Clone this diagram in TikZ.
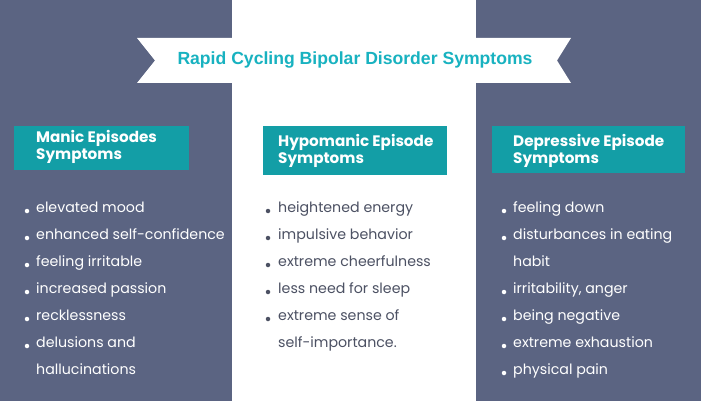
\documentclass[tikz,border=0pt]{standalone}
\usepackage{fontspec}
\setmainfont{Poppins}
\newfontfamily\titlefont{Liberation Sans}
\usetikzlibrary{positioning}
\definecolor{slate}{HTML}{5B6482}
\definecolor{teal}{HTML}{139EA6}
\definecolor{titleteal}{HTML}{18B2C0}
\definecolor{midtext}{HTML}{4C5163}
\tikzset{
  head/.style={fill=teal, text=white, font=\bfseries\fontsize{15.2}{17}\selectfont, align=left, anchor=north west, inner sep=0pt},
  item/.style={anchor=west, inner sep=0pt, text height=10pt, text depth=3pt, font=\fontsize{14.2}{16}\selectfont},
  dot/.style={circle, fill, inner sep=0pt, minimum size=4.5pt}
}
\begin{document}
\begin{tikzpicture}[x=1pt,y=-1pt]
\useasboundingbox (0,0) rectangle (701,401);
\fill[slate] (0,0) rectangle (232,401);
\fill[white] (232,0) rectangle (476,401);
\fill[slate] (476,0) rectangle (701,401);

% ribbon
\fill[white] (137,38) -- (571,38) -- (557,60.5) -- (571,83) -- (137,83) -- (155,60.5) -- cycle;
\node (title) at (355,60) {\titlefont\bfseries\fontsize{17.6}{19}\selectfont\color{titleteal}Rapid Cycling Bipolar Disorder Symptoms};

% headers
\fill[teal] (14,126) rectangle (189,170);
\node[head] (manic) at (36,130) {Manic Episodes\\Symptoms};
\fill[teal] (263,126) rectangle (447,175);
\node[head] (hypo) at (278,134) {Hypomanic Episode\\Symptoms};
\fill[teal] (492,126) rectangle (685,173);
\node[head] (depr) at (513,134) {Depressive Episode\\Symptoms};

% left list
\foreach \t [count=\i] in {elevated mood, enhanced self-confidence, feeling irritable, increased passion, recklessness, delusions and}
  {\node[item, text=white] (m\i) at (36,{182+27*\i}) {\t};
   \node[dot, white] at (27,{184+27*\i}) {};}
\node[item, text=white] (m7) at (36,371) {hallucinations};

% middle list
\foreach \t [count=\i] in {heightened energy, impulsive behavior, extreme cheerfulness, less need for sleep, extreme sense of}
  {\node[item, text=midtext] (h\i) at (278,{182+27*\i}) {\t};
   \node[dot, midtext] at (268,{184+27*\i}) {};}
\node[item, text=midtext] (h6) at (278,344) {self-importance.};

% right list
\foreach \t/\b [count=\i] in {feeling down/1, disturbances in eating/1, habit/0, {irritability, anger}/1, being negative/1, extreme exhaustion/1, physical pain/1}
  {\node[item, text=white] (d\i) at (513,{182+27*\i}) {\t};
   \ifnum\b=1 \node[dot, white] at (504,{184+27*\i}) {};\fi}
\end{tikzpicture}
\end{document}
